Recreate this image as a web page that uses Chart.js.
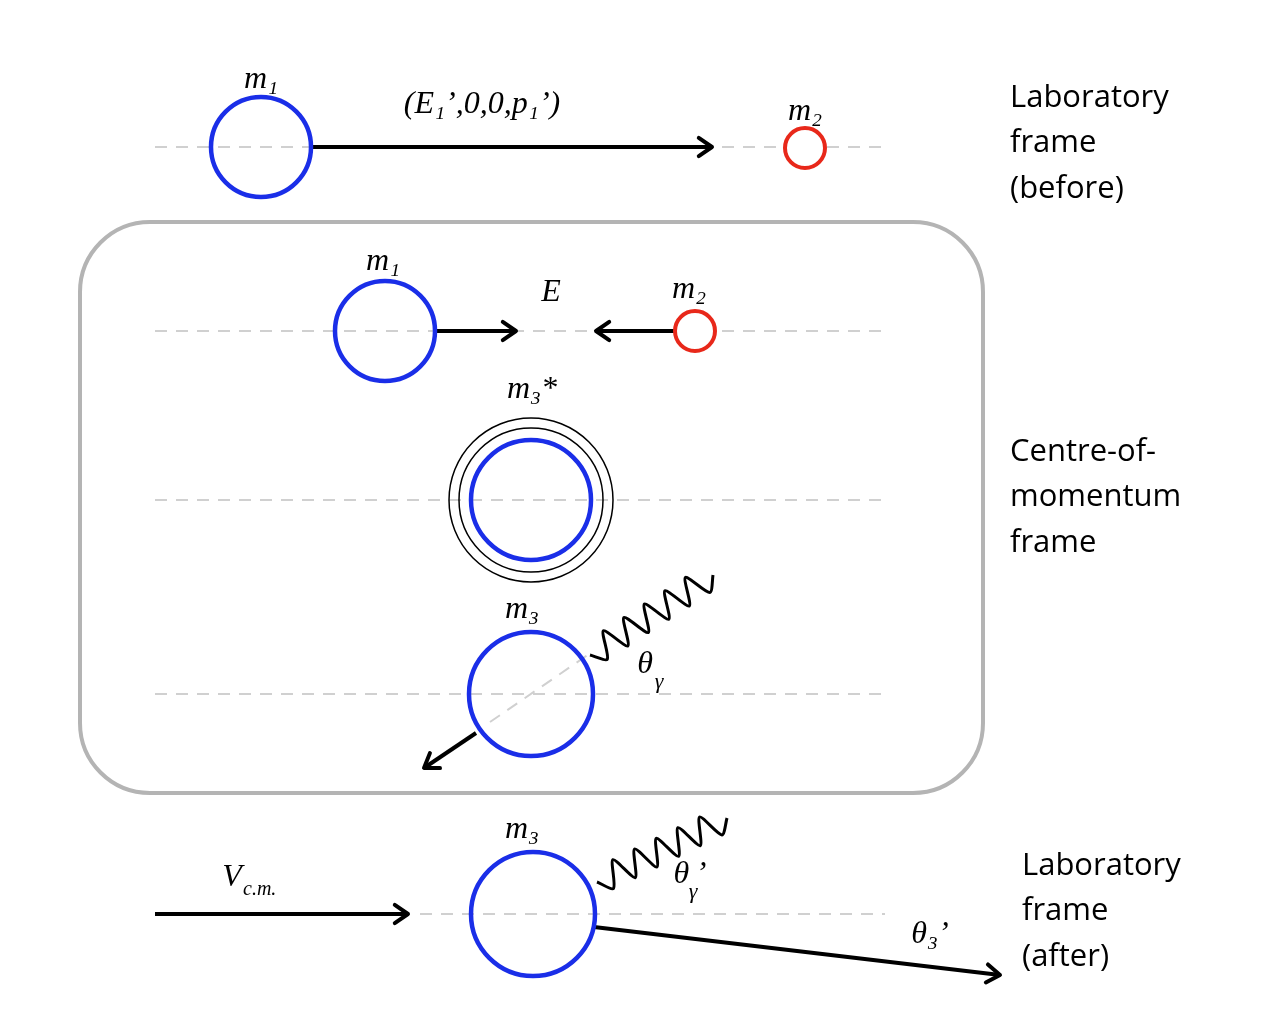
<!DOCTYPE html>
<html><head><meta charset="utf-8">
<script src="https://cdn.jsdelivr.net/npm/chart.js@4"></script>
<style>body{margin:0;background:#fff}</style></head>
<body><canvas id="c" width="1263" height="1026"></canvas>
<script>
// Diagram elements in scale units (x 0..1263, y 0..1026 top-down)
const dashedRows = [[155,147,885,147],[155,331,885,331],[155,500,885,500],[155,694,885,694],[420,914,885,914]];
const blueCircles = [[261,147,50],[385,331,50],[531,500,60],[531,694,62],[533,914,62]];
const redCircles = [[805,148,20],[695,331,20]];
const ringCircles = [[531,500,72],[531,500,82]];
const arrows = [[311,147,712,147],[436,331,516,331],[675,331,596,331],[476,733,424,768],[155,914,408,914],[594,927,1000,975]];
const waves = [[590,655,713,575,6],[597,882,727,818,6]];
const diagDash = [[490,722,592,652]];
const mathLabels = [["m\u2081",261,80],["(E\u2081\u2019,0,0,p\u2081\u2019)",482,105],["m\u2082",805,112],["m\u2081",383,262],["E",551,293],["m\u2082",689,290],["m\u2083*",532,390],["m\u2083",522,610],["\u03b8",645,665],["V",232,878],["m\u2083",522,830],["\u03b8\u2009\u2019",690,875],["\u03b8\u2083\u2019",930,935]];
const subLabels = [["\u03b3",659,682],["\u03b3",693,892]];
const sideLabels = [["Laboratory",1010,98],["frame",1010,143],["(before)",1010,189],["Centre-of-",1010,452],["momentum",1010,497],["frame",1010,543],["Laboratory",1022,866],["frame",1022,911],["(after)",1022,957]];

const pts = (arr)=>arr.map(a=>({x:a[0],y:a[1],r:a[2]}));
const seg = (s)=>[{x:s[0],y:s[1]},{x:s[2],y:s[3]}];
function zig(w){const [x0,y0,x1,y1,n]=w;const dx=x1-x0,dy=y1-y0,L=Math.hypot(dx,dy);const nx=-dy/L,ny=dx/L;const out=[];const steps=n*2;for(let i=0;i<=steps;i++){const t=i/steps;const a=(i===0||i===steps)?0:(i%2?13:-13);out.push({x:x0+dx*t+nx*a,y:y0+dy*t+ny*a});}return out;}

const ds=[];
dashedRows.concat(diagDash).forEach(s=>ds.push({order:10,data:seg(s),showLine:true,borderColor:'#d0d0d0',borderWidth:2,borderDash:[12,9],pointRadius:0}));
arrows.forEach(s=>ds.push({order:5,data:seg(s),showLine:true,borderColor:'#000',borderWidth:4,borderDash:[],pointRadius:0}));
waves.forEach(w=>ds.push({order:5,data:zig(w),showLine:true,borderColor:'#000',borderWidth:3,borderDash:[],pointRadius:0,tension:0.25}));
ds.push({order:1,data:pts(ringCircles),pointRadius:c=>c.raw?c.raw.r:0,pointBorderColor:'#000',pointBorderWidth:1.5,pointBackgroundColor:'rgba(0,0,0,0)'});
ds.push({order:0,data:pts(blueCircles),pointRadius:c=>c.raw?c.raw.r:0,pointBorderColor:'#1a2ee8',pointBorderWidth:4.5,pointBackgroundColor:'rgba(255,255,255,0)'});
ds.push({order:0,data:pts(redCircles),pointRadius:c=>c.raw?c.raw.r:0,pointBorderColor:'#e8281a',pointBorderWidth:4,pointBackgroundColor:'#fff'});

const deco={id:'deco',
 beforeDatasetsDraw(ch){const {ctx,scales:{x,y}}=ch;ctx.save();ctx.strokeStyle='#b4b4b4';ctx.lineWidth=4;ctx.beginPath();ctx.roundRect(x.getPixelForValue(80),y.getPixelForValue(222),x.getPixelForValue(983)-x.getPixelForValue(80),y.getPixelForValue(793)-y.getPixelForValue(222),70);ctx.stroke();ctx.restore();},
 afterDatasetsDraw(ch){const {ctx,scales:{x,y}}=ch;ctx.save();
  arrows.forEach(s=>{const x1=x.getPixelForValue(s[2]),y1=y.getPixelForValue(s[3]),x0=x.getPixelForValue(s[0]),y0=y.getPixelForValue(s[1]);const a=Math.atan2(y1-y0,x1-x0);ctx.setLineDash([]);ctx.strokeStyle='#000';ctx.lineWidth=4;ctx.lineCap='round';ctx.lineJoin='round';ctx.beginPath();ctx.moveTo(x1-16*Math.cos(a-0.6),y1-16*Math.sin(a-0.6));ctx.lineTo(x1,y1);ctx.lineTo(x1-16*Math.cos(a+0.6),y1-16*Math.sin(a+0.6));ctx.stroke();});
  ctx.fillStyle='#000';ctx.textAlign='center';ctx.textBaseline='middle';
  ctx.font='italic 32px "Liberation Serif"';
  mathLabels.forEach(l=>ctx.fillText(l[0],x.getPixelForValue(l[1]),y.getPixelForValue(l[2])));
  ctx.font='italic 22px "Liberation Serif"';
  subLabels.forEach(l=>ctx.fillText(l[0],x.getPixelForValue(l[1]),y.getPixelForValue(l[2])));
  ctx.font='italic 20px "Liberation Serif"';ctx.textAlign='left';ctx.fillText('c.m.',x.getPixelForValue(243),y.getPixelForValue(890));
  ctx.font='31px "Open Sans"';ctx.textAlign='left';
  sideLabels.forEach(l=>ctx.fillText(l[0],x.getPixelForValue(l[1]),y.getPixelForValue(l[2])));
  ctx.restore();}};

new Chart(document.getElementById('c'),{type:'scatter',data:{datasets:ds},
 options:{responsive:false,animation:false,devicePixelRatio:1,layout:{padding:0,autoPadding:false},
  plugins:{legend:{display:false},tooltip:{enabled:false}},
  scales:{x:{type:'linear',min:0,max:1263,display:false},y:{type:'linear',min:0,max:1026,reverse:true,display:false}}},
 plugins:[deco]});
</script></body></html>
